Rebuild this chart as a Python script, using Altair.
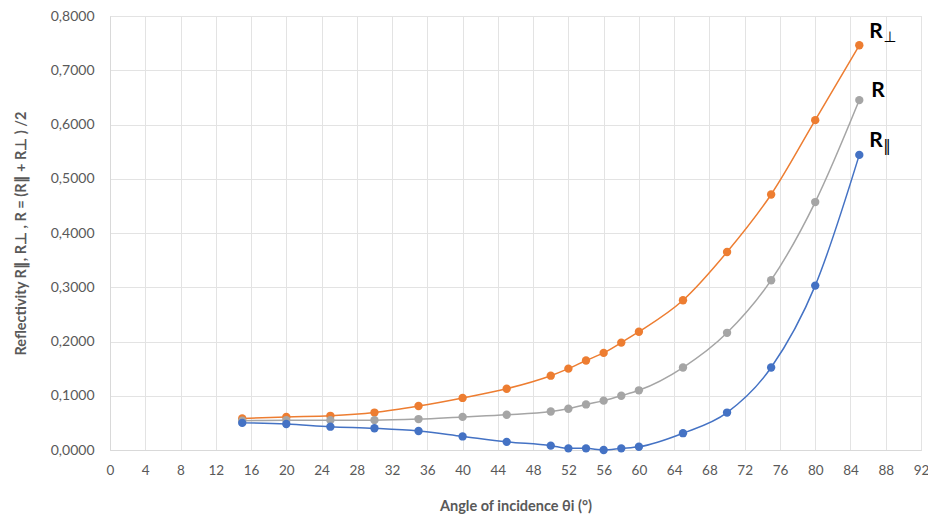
import altair as alt
import pandas as pd

angles = [15, 20, 25, 30, 35, 40, 45, 50, 52, 54, 56, 58, 60, 65, 70, 75, 80, 85]
r_perp = [0.058, 0.061, 0.063, 0.069, 0.081, 0.096, 0.113, 0.137, 0.150, 0.165,
          0.179, 0.198, 0.218, 0.276, 0.365, 0.471, 0.608, 0.746]
r_par = [0.050, 0.048, 0.043, 0.040, 0.035, 0.025, 0.015, 0.008, 0.003, 0.003,
         0.000, 0.003, 0.006, 0.031, 0.069, 0.152, 0.303, 0.544]
r_avg = [0.054, 0.055, 0.055, 0.055, 0.057, 0.061, 0.065, 0.071, 0.076, 0.084,
         0.091, 0.100, 0.110, 0.152, 0.216, 0.313, 0.457, 0.645]

series_names = ["Rperp", "R", "Rpar"]
series_colors = ["#ED7D31", "#A5A5A5", "#4472C4"]
x_ticks = list(range(0, 93, 4))
y_ticks = [0, 0.1, 0.2, 0.3, 0.4, 0.5, 0.6, 0.7, 0.8]

rows = []
for name, vals in zip(series_names, [r_perp, r_avg, r_par]):
    for a, v in zip(angles, vals):
        rows.append({"angle": a, "value": v, "series": name})
df = pd.DataFrame(rows)

FONT = "Lato"
GREY = "#595959"

x_axis = alt.Axis(values=x_ticks, tickCount=len(x_ticks), title="Angle of incidence θi (°)",
                  grid=True, gridColor="#E3E3E3", domainColor="#D9D9D9",
                  ticks=False, labelColor=GREY, labelFontSize=13.5, labelFont=FONT,
                  labelOverlap=False, labelFlush=False,
                  labelPadding=13, titleColor=GREY, titleFontSize=14.5,
                  titleFont=FONT, titleFontWeight="bold", titlePadding=23)
y_axis = alt.Axis(values=y_ticks,
                  title="Reflectivity  R∥, R⊥ , R = (R∥ + R⊥ ) /2",
                  labelExpr="replace(format(datum.value, '.4f'), '.', ',')",
                  grid=True, gridColor="#E3E3E3", domainColor="#D9D9D9",
                  ticks=False, labelColor=GREY, labelFontSize=14, labelFont=FONT,
                  labelOverlap=False, labelFlush=False,
                  labelPadding=16, titleColor=GREY, titleFontSize=14.5,
                  titleFont=FONT, titleFontWeight="bold", titlePadding=22)
x_enc = alt.X("angle:Q", scale=alt.Scale(domain=[0, 92], nice=False), axis=x_axis)
y_enc = alt.Y("value:Q", scale=alt.Scale(domain=[0, 0.8], nice=False), axis=y_axis)
color_enc = alt.Color("series:N", scale=alt.Scale(domain=series_names, range=series_colors),
                      legend=None)

base = alt.Chart(df)
lines = base.mark_line(interpolate="monotone", strokeWidth=1.5).encode(
    x=x_enc, y=y_enc, color=color_enc, detail="series:N")
points = base.mark_circle(size=70, opacity=1).encode(
    x=x_enc, y=y_enc, color=color_enc)

layers = [lines, points]
specs = [(r_perp[-1], "R", "⊥", -13), (r_avg[-1], "R", "", -9), (r_par[-1], "R", "‖", -14)]
for val, m, s, dy in specs:
    d = pd.DataFrame({"angle": [85], "value": [val], "m": [m], "s": [s]})
    dx_main = 10 if s else 12
    layers.append(alt.Chart(d).mark_text(align="left", baseline="middle", dx=dx_main, dy=dy,
                                         font=FONT, fontSize=21, fontWeight="bold",
                                         color="#000000").encode(
        x=x_enc, y=y_enc, text="m:N"))
    if s:
        layers.append(alt.Chart(d).mark_text(align="left", baseline="middle", dx=24,
                                             dy=dy + 5, font="DejaVu Sans", fontSize=15,
                                             fontWeight="normal", color="#000000").encode(
            x=x_enc, y=y_enc, text="s:N"))

chart = alt.layer(*layers).properties(
    width=811, height=434,
    autosize=alt.AutoSizeParams(type="none"),
    padding={"left": 102, "top": 8, "right": 7, "bottom": 64},
).configure_view(stroke=None).configure(background="#FFFFFF")

chart.save("out.html", embed_options={"renderer": "svg", "actions": False})
